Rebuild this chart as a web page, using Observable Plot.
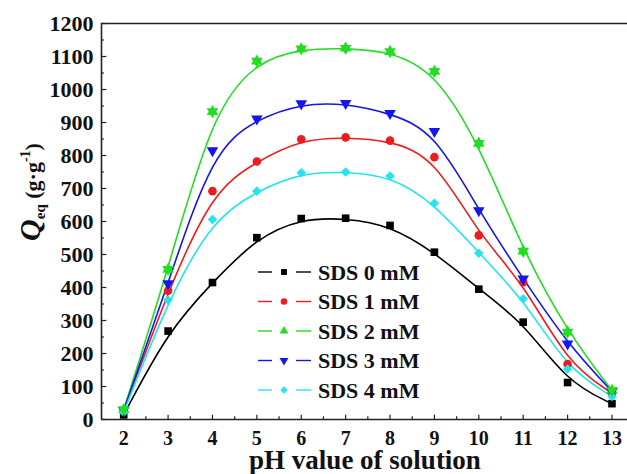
<!DOCTYPE html>
<html><head><meta charset="utf-8">
<script src="https://cdn.jsdelivr.net/npm/d3@7"></script>
<script src="https://cdn.jsdelivr.net/npm/@observablehq/plot@0.6"></script>
<style>
body{margin:0;background:#fff;}
#chart svg, #chart svg text{font-family:"Liberation Serif","Times New Roman",serif;}
</style></head>
<body><div id="chart"></div>
<script>
const pH = [2,3,4,5,6,7,8,9,10,11,12,13];
const sds0 = [14,268,415,551,609,610,588,507,395,295,112,48];
const sds1 = [25,390,692,782,849,855,845,795,558,416,168,80];
const sds2 = [30,455,933,1086,1123,1125,1115,1055,837,510,265,88];
const sds3 = [28,412,815,911,957,958,928,873,633,426,229,85];
const sds4 = [22,362,606,692,748,750,738,655,504,366,153,70];
const seriesNames = ["SDS 0 mM","SDS 1 mM","SDS 2 mM","SDS 3 mM","SDS 4 mM"];
const seriesValues = [sds0,sds1,sds2,sds3,sds4];
const colors = ["#000000","#ee1c1c","#22dd22","#1515ee","#22e5ee"];
const symbols = ["square","circle","triangle","triangle","diamond2"];
const rotations = [0,0,0,180,0];
const yTicks = d3.range(0,1201,100);
const yMinor = d3.range(50,1200,100);
const xMinor = d3.range(2.5,13,1);

const rows = seriesNames.flatMap((name,s)=>pH.map((x,i)=>({x, y:seriesValues[s][i], name, rot:rotations[s]})));

const plot = Plot.plot({
  width:627, height:474,
  marginLeft:101, marginRight:0, marginTop:23, marginBottom:55,
  x:{domain:[1.5,13.35]},
  y:{domain:[0,1200]},
  color:{domain:seriesNames, range:colors},
  symbol:{domain:seriesNames, range:symbols},
  style:{fontFamily:"'Liberation Serif', 'Times New Roman', serif", fontWeight:"bold"},
  marks:[
    Plot.line(rows,{x:"x",y:"y",z:"name",stroke:"name",curve:"basis",strokeWidth:1.6}),
    Plot.dot(rows,{x:"x",y:"y",symbol:"name",fill:"name",rotate:"rot",r:4.3,stroke:"none"}),
    Plot.dot(rows.filter(d=>d.name==="SDS 2 mM"),{x:"x",y:"y",symbol:"name",fill:"name",rotate:180,r:4.3}),
    Plot.ruleX([1.5],{stroke:"#222",strokeWidth:1.6}),
    Plot.ruleY([0,1200],{stroke:"#222",strokeWidth:1.6}),
    Plot.axisY({ticks:yTicks, tickSize:0, tickPadding:8, label:null, fontSize:22, tickFormat:d3.format("d")}),
    Plot.ruleY(yTicks,{x1:1.5,x2:1.62,stroke:"#222",strokeWidth:1.2}),
    Plot.ruleY(yMinor,{x1:1.5,x2:1.565,stroke:"#222",strokeWidth:1.2}),
    Plot.axisX({ticks:pH, tickSize:0, tickPadding:11, label:null, fontSize:20}),
    Plot.ruleX(pH,{y1:0,y2:13,stroke:"#222",strokeWidth:1.2}),
    Plot.ruleX(xMinor,{y1:0,y2:8,stroke:"#222",strokeWidth:1.2})
  ]
});
document.getElementById("chart").appendChild(plot);

const svg = d3.select(plot);
svg.selectAll("text").attr("fill","#111").attr("font-family","Liberation Serif, serif");

// axis titles
svg.append("text").attr("x",365).attr("y",469).attr("text-anchor","middle").attr("font-family","Liberation Serif, serif")
  .attr("font-size",27).attr("font-weight","bold").attr("fill","#111").text("pH value of solution");
const yl = svg.append("text").attr("transform","translate(40,192) rotate(-90)").attr("font-family","Liberation Serif, serif")
  .attr("text-anchor","middle").attr("font-weight","bold").attr("fill","#111").attr("font-size",22);
yl.append("tspan").attr("font-style","italic").attr("font-size",30).text("Q");
yl.append("tspan").attr("font-size",15).attr("dy",5).text("eq");
yl.append("tspan").attr("dy",-5).text(" (g·g");
yl.append("tspan").attr("font-size",14).attr("dy",-10).text("-1");
yl.append("tspan").attr("dy",10).text(")");

// legend
const leg = svg.append("g").attr("text-anchor","start");
seriesNames.forEach((name,i)=>{
  const y = 272 + i*29.5;
  const g = leg.append("g");
  g.append("line").attr("x1",258).attr("x2",272).attr("y1",y).attr("y2",y).attr("stroke",colors[i]).attr("stroke-width",1.4);
  g.append("line").attr("x1",296).attr("x2",311).attr("y1",y).attr("y2",y).attr("stroke",colors[i]).attr("stroke-width",1.4);
  const sym = {square:d3.symbolSquare,circle:d3.symbolCircle,triangle:d3.symbolTriangle,diamond2:d3.symbolDiamond2}[symbols[i]];
  g.append("path").attr("d",d3.symbol(sym,34)()).attr("fill",colors[i])
    .attr("transform",`translate(284,${y}) rotate(${rotations[i]})`);
  g.append("text").attr("x",318).attr("y",y).attr("dy","0.35em").attr("font-size",22).attr("font-family","Liberation Serif, serif")
    .attr("text-anchor","start").attr("font-weight","bold").attr("fill","#111").text(name);
});
</script>
</body></html>
